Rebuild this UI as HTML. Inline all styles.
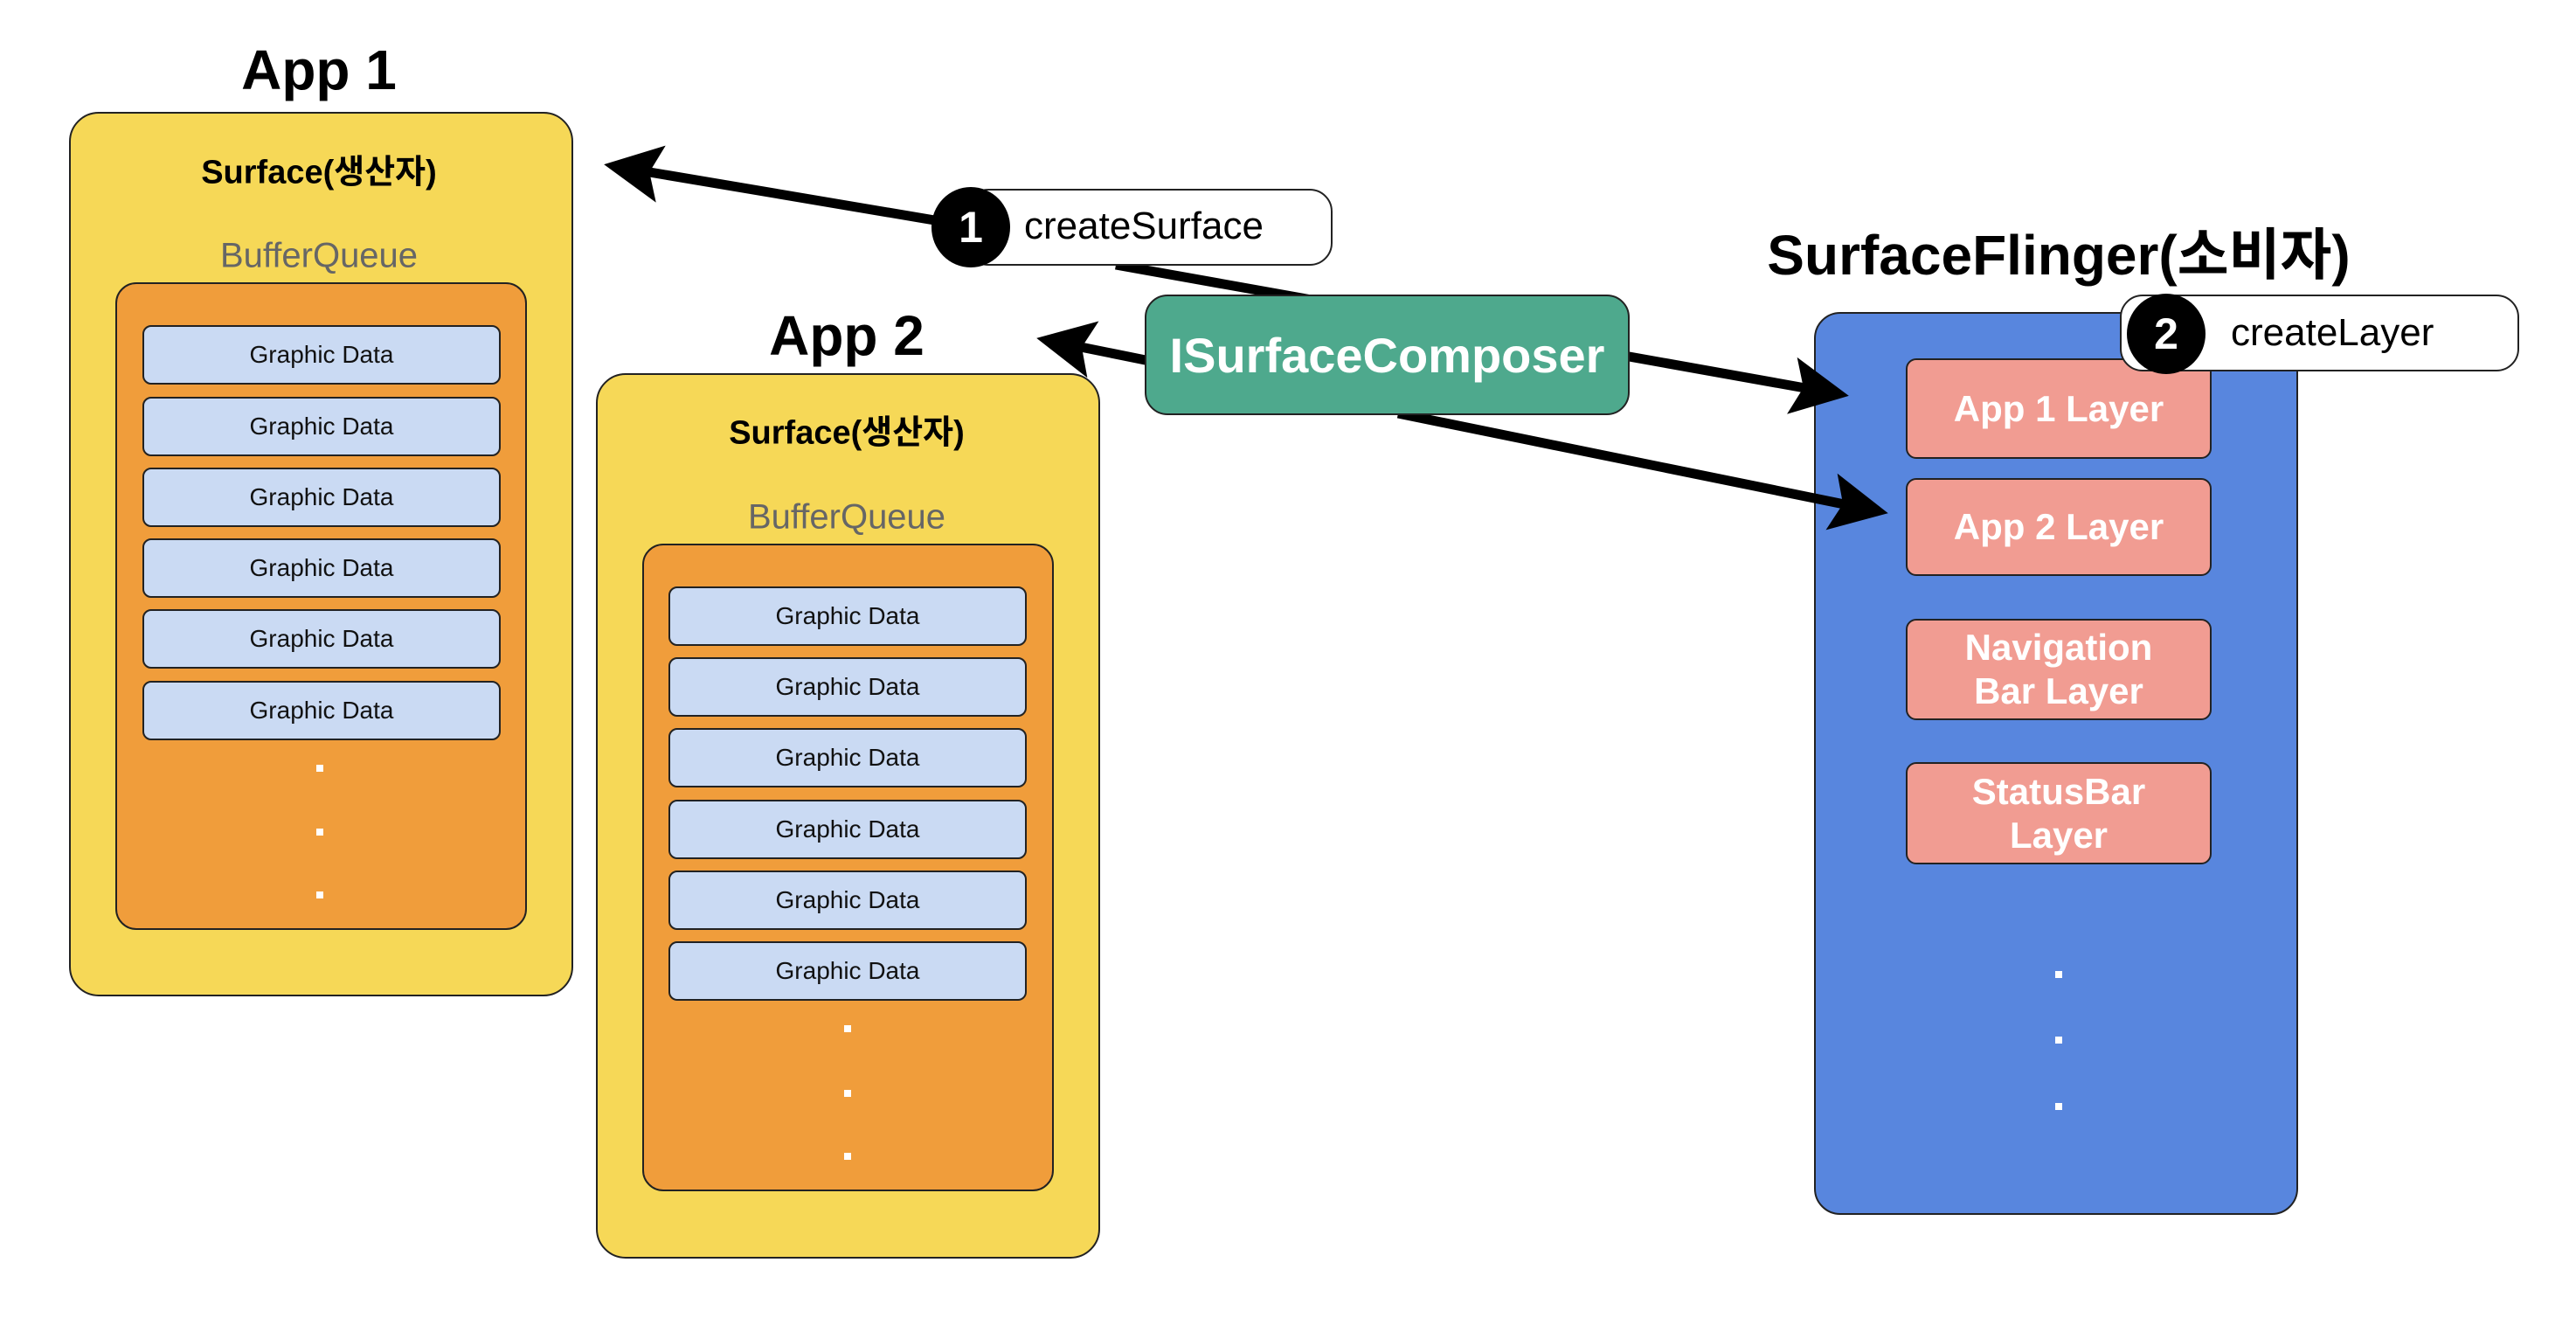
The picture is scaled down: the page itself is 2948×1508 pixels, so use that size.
<!DOCTYPE html>
<html><head><meta charset="utf-8"><style>
body{margin:0;width:2948px;height:1508px;background:#fff;position:relative;overflow:hidden;font-family:"Liberation Sans","Noto Sans CJK KR",sans-serif}
.a{position:absolute;box-sizing:border-box}
.y{background:#f6d857;border:2px solid #222;border-radius:34px}
.o{background:#f09d3b;border:2px solid #222;border-radius:24px}
.g{background:#cadaf3;border:2px solid #222;border-radius:10px;display:flex;align-items:center;justify-content:center;font-size:28px;color:#111}
.t{position:absolute;text-align:center;white-space:nowrap;transform:translate(-50%,-50%)}
.d{position:absolute;width:8px;height:8px;background:#fff}
.l{background:#f19c92;border:2px solid #222;border-radius:12px;display:flex;align-items:center;justify-content:center;text-align:center;color:#fff;font-weight:bold;font-size:42px;line-height:50px;font-family:"Liberation Sans Narrow","Liberation Sans",sans-serif}
.n{font-family:"Liberation Sans Narrow","Liberation Sans","Noto Sans CJK KR",sans-serif}
</style></head><body>

<div class="t" style="left:365px;top:80px;font-size:64px;font-weight:bold">App 1</div>
<div class="a y" style="left:79px;top:128px;width:577px;height:1012px"></div>
<div class="t" style="left:365px;top:193px;font-size:38px;font-weight:bold">Surface(생산자)</div>
<div class="t" style="left:365px;top:293px;font-size:40px;color:#666">BufferQueue</div>
<div class="a o" style="left:132px;top:323px;width:471px;height:741px"></div>
<div class="a g" style="left:163px;top:372px;width:410px;height:68px">Graphic Data</div>
<div class="a g" style="left:163px;top:454px;width:410px;height:68px">Graphic Data</div>
<div class="a g" style="left:163px;top:535px;width:410px;height:68px">Graphic Data</div>
<div class="a g" style="left:163px;top:616px;width:410px;height:68px">Graphic Data</div>
<div class="a g" style="left:163px;top:697px;width:410px;height:68px">Graphic Data</div>
<div class="a g" style="left:163px;top:779px;width:410px;height:68px">Graphic Data</div>
<div class="d" style="left:362px;top:875px"></div><div class="d" style="left:362px;top:948px"></div><div class="d" style="left:362px;top:1020px"></div>

<div class="t" style="left:969px;top:384px;font-size:64px;font-weight:bold">App 2</div>
<div class="a y" style="left:682px;top:427px;width:577px;height:1013px"></div>
<div class="t" style="left:969px;top:491px;font-size:38px;font-weight:bold">Surface(생산자)</div>
<div class="t" style="left:969px;top:592px;font-size:40px;color:#666">BufferQueue</div>
<div class="a o" style="left:735px;top:622px;width:471px;height:741px"></div>
<div class="a g" style="left:765px;top:671px;width:410px;height:68px">Graphic Data</div>
<div class="a g" style="left:765px;top:752px;width:410px;height:68px">Graphic Data</div>
<div class="a g" style="left:765px;top:833px;width:410px;height:68px">Graphic Data</div>
<div class="a g" style="left:765px;top:915px;width:410px;height:68px">Graphic Data</div>
<div class="a g" style="left:765px;top:996px;width:410px;height:68px">Graphic Data</div>
<div class="a g" style="left:765px;top:1077px;width:410px;height:68px">Graphic Data</div>
<div class="d" style="left:966px;top:1173px"></div><div class="d" style="left:966px;top:1247px"></div><div class="d" style="left:966px;top:1319px"></div>

<div class="t n" style="left:2356px;top:287px;font-size:64px;font-weight:bold">SurfaceFlinger(소비자)</div>
<div class="a" style="left:2076px;top:357px;width:554px;height:1033px;background:#5886de;border:2px solid #222;border-radius:30px"></div>
<div class="a l" style="left:2181px;top:410px;width:350px;height:115px">App 1 Layer</div>
<div class="a l" style="left:2181px;top:547px;width:350px;height:112px">App 2 Layer</div>
<div class="a l" style="left:2181px;top:708px;width:350px;height:116px">Navigation<br>Bar Layer</div>
<div class="a l" style="left:2181px;top:872px;width:350px;height:117px">StatusBar<br>Layer</div>
<div class="d" style="left:2352px;top:1111px"></div><div class="d" style="left:2352px;top:1186px"></div><div class="d" style="left:2352px;top:1262px"></div>

<svg class="a" style="left:0;top:0" width="2948" height="1508">
<defs><marker id="m" markerWidth="6" markerHeight="6" refX="5" refY="3" orient="auto" markerUnits="strokeWidth"><path d="M0,0 L6,3 L0,6 L1.2,3 z" fill="#000"/></marker></defs>
<line x1="1277" y1="303" x2="2105" y2="451" stroke="#000" stroke-width="11" marker-end="url(#m)"/>
<line x1="1111" y1="259" x2="702" y2="190" stroke="#000" stroke-width="11" marker-end="url(#m)"/>
<line x1="1600" y1="473" x2="2150" y2="585" stroke="#000" stroke-width="11" marker-end="url(#m)"/>
<line x1="1400" y1="430" x2="1197" y2="389" stroke="#000" stroke-width="11" marker-end="url(#m)"/>
</svg>

<div class="a" style="left:1310px;top:337px;width:555px;height:138px;background:#4ea98d;border:2px solid #222;border-radius:26px;display:flex;align-items:center;justify-content:center;color:#fff;font-weight:bold;font-size:56px;font-family:'Liberation Sans Narrow','Liberation Sans',sans-serif">ISurfaceComposer</div>

<div class="a" style="left:1105px;top:216px;width:420px;height:88px;background:#fff;border:2px solid #222;border-radius:26px"></div>
<div class="a" style="left:1066px;top:214px;width:90px;height:92px;background:#000;border-radius:50%;color:#fff;font-weight:bold;font-size:50px;display:flex;align-items:center;justify-content:center">1</div>
<div class="a n" style="left:1172px;top:234px;font-size:44px;line-height:50px">createSurface</div>

<div class="a" style="left:2426px;top:337px;width:457px;height:88px;background:#fff;border:2px solid #222;border-radius:26px"></div>
<div class="a" style="left:2434px;top:336px;width:90px;height:92px;background:#000;border-radius:50%;color:#fff;font-weight:bold;font-size:50px;display:flex;align-items:center;justify-content:center">2</div>
<div class="a n" style="left:2553px;top:356px;font-size:44px;line-height:50px">createLayer</div>
</body></html>
